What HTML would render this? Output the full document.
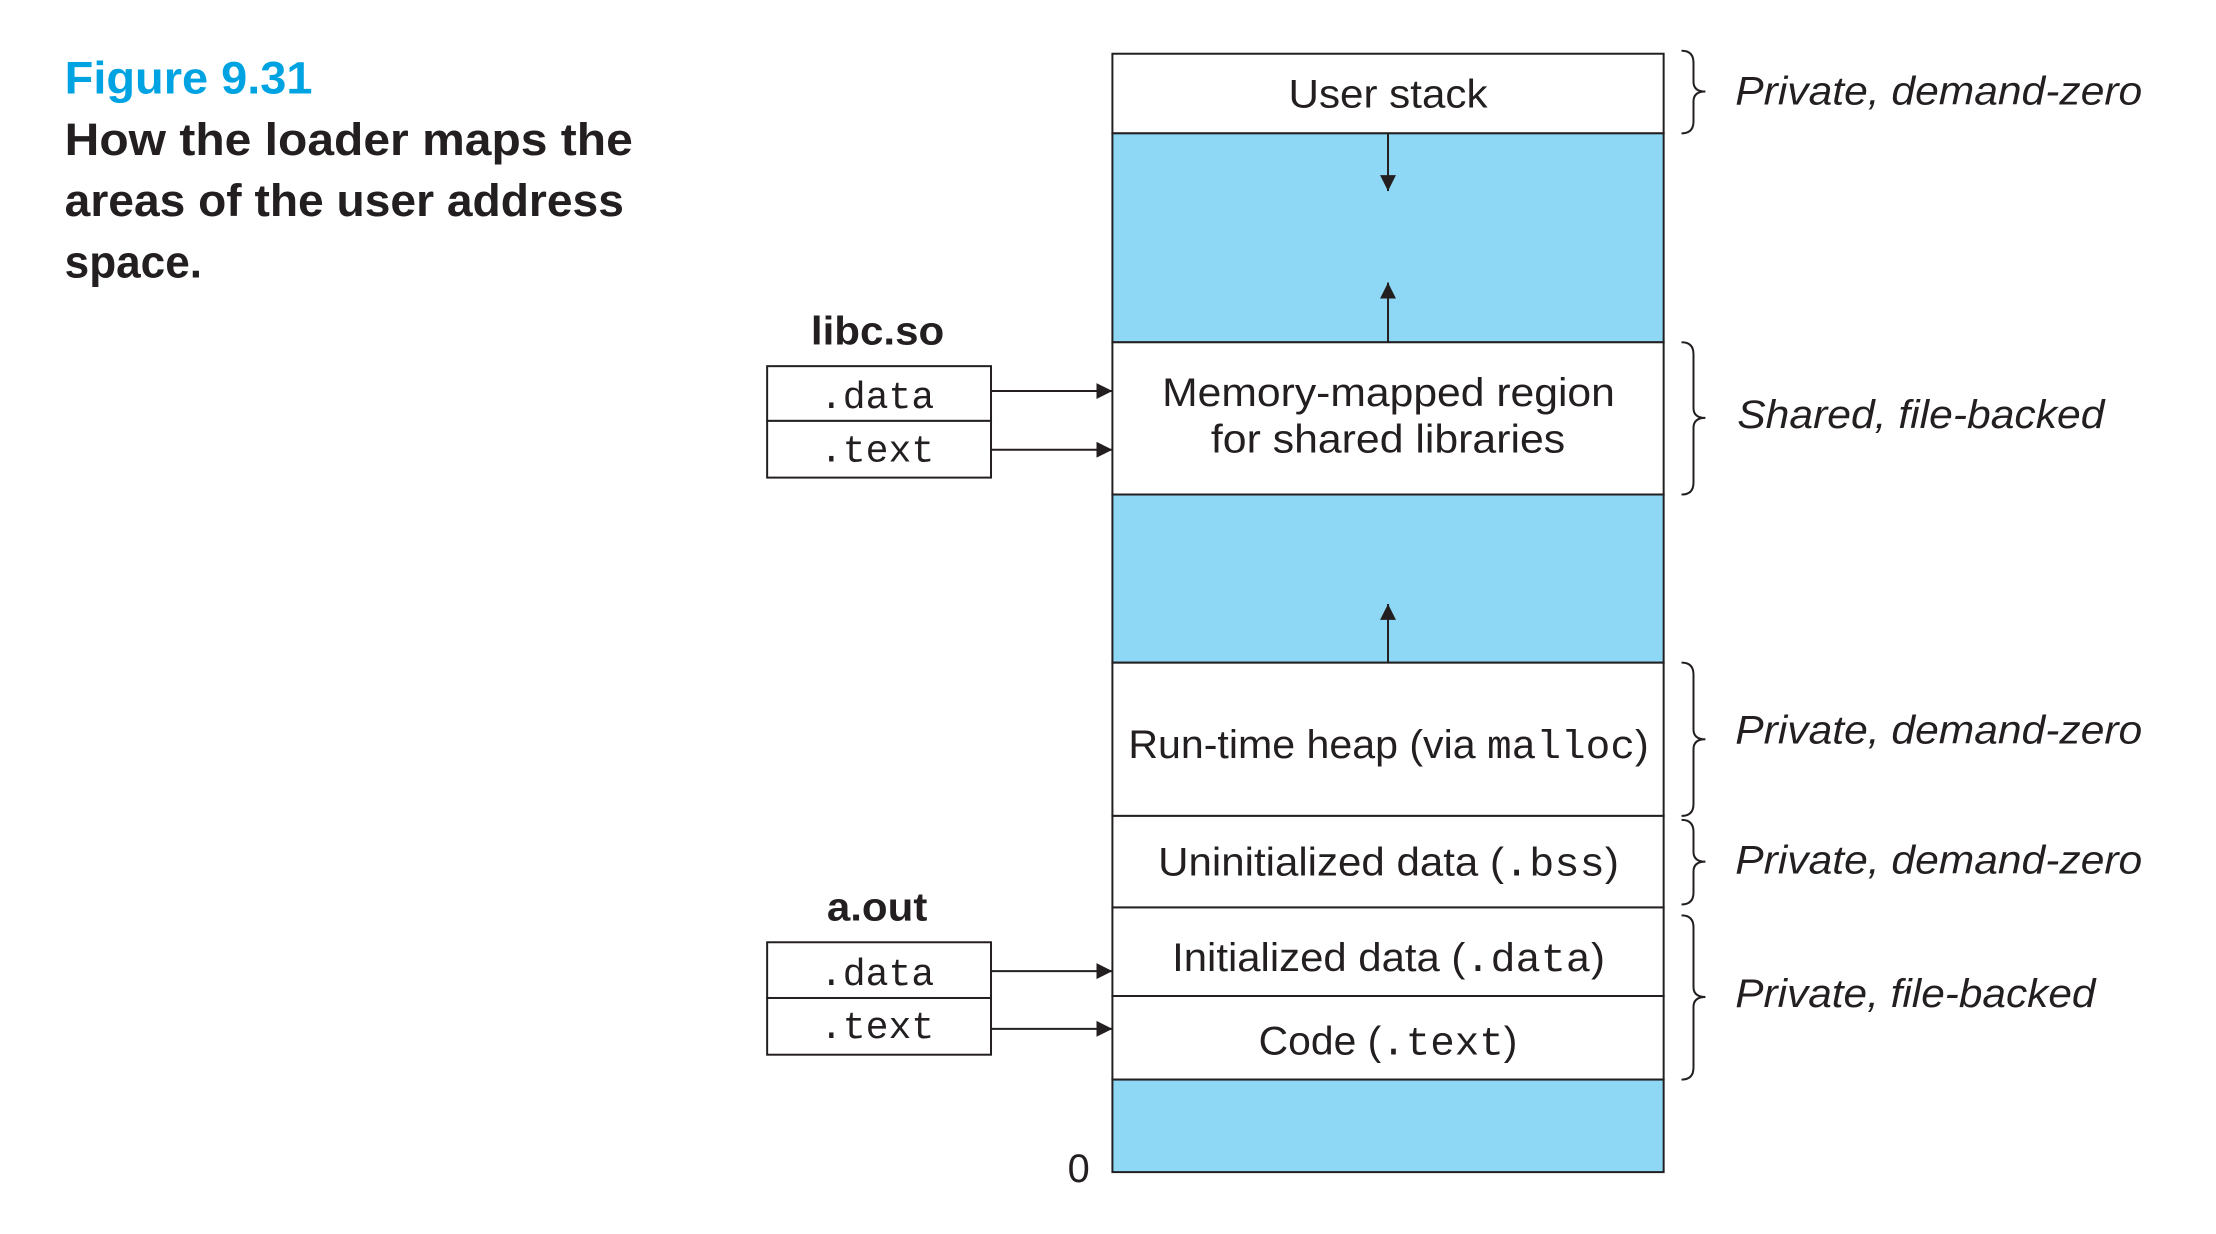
<!DOCTYPE html>
<html><head><meta charset="utf-8"><style>
html,body{margin:0;padding:0;background:#fff;}
svg{display:block;}
.t{font-family:"Liberation Sans",sans-serif;font-weight:bold;font-size:46px;fill:#231f20;}
.b{font-family:"Liberation Sans",sans-serif;font-size:40px;fill:#231f20;}
.i{font-family:"Liberation Sans",sans-serif;font-style:italic;font-size:40px;fill:#231f20;}
.m{font-family:"Liberation Mono",monospace;}
.mm{font-family:"Liberation Mono",monospace;font-size:38px;fill:#231f20;}
</style></head><body>
<svg width="2216" height="1234" viewBox="0 0 2216 1234" xmlns="http://www.w3.org/2000/svg">
<defs><marker id="ar" viewBox="0 0 10 10" refX="10" refY="5" markerWidth="18" markerHeight="16" markerUnits="userSpaceOnUse" orient="auto"><path d="M0,0 L10,5 L0,10 z" fill="#231f20"/></marker></defs>
<g transform="scale(0.995)">
<text x="65" y="94" class="t" style="fill:#00a3e2" textLength="249" lengthAdjust="spacingAndGlyphs">Figure 9.31</text>
<text x="65" y="156" class="t" textLength="571" lengthAdjust="spacingAndGlyphs">How the loader maps the</text>
<text x="65" y="217" class="t" textLength="562" lengthAdjust="spacingAndGlyphs">areas of the user address</text>
<text x="65" y="279" class="t" textLength="138" lengthAdjust="spacingAndGlyphs">space.</text>

<g stroke="#231f20" stroke-width="2">
<rect x="1118" y="54" width="554" height="80" fill="#fff"/>
<rect x="1118" y="134" width="554" height="210" fill="#8ed8f6"/>
<rect x="1118" y="344" width="554" height="153" fill="#fff"/>
<rect x="1118" y="497" width="554" height="169" fill="#8ed8f6"/>
<rect x="1118" y="666" width="554" height="154" fill="#fff"/>
<rect x="1118" y="820" width="554" height="92" fill="#fff"/>
<rect x="1118" y="912" width="554" height="89" fill="#fff"/>
<rect x="1118" y="1001" width="554" height="84" fill="#fff"/>
<rect x="1118" y="1085" width="554" height="93" fill="#8ed8f6"/>
<line x1="1395" y1="134" x2="1395" y2="192" marker-end="url(#ar)"/>
<line x1="1395" y1="344" x2="1395" y2="284" marker-end="url(#ar)"/>
<line x1="1395" y1="666" x2="1395" y2="607" marker-end="url(#ar)"/>
<rect x="771" y="368" width="225" height="55" fill="#fff"/>
<rect x="771" y="423" width="225" height="57" fill="#fff"/>
<rect x="771" y="947" width="225" height="56" fill="#fff"/>
<rect x="771" y="1003" width="225" height="57" fill="#fff"/>
<line x1="996" y1="393" x2="1118" y2="393" marker-end="url(#ar)"/>
<line x1="996" y1="452" x2="1118" y2="452" marker-end="url(#ar)"/>
<line x1="996" y1="976" x2="1118" y2="976" marker-end="url(#ar)"/>
<line x1="996" y1="1034" x2="1118" y2="1034" marker-end="url(#ar)"/>
<g fill="none">
<path d="M1690 51 Q1702 51 1702 63 L1702 82 Q1702 92 1714 92 Q1702 92 1702 102 L1702 122 Q1702 134 1690 134"/>
<path d="M1690 344 Q1702 344 1702 356 L1702 410 Q1702 420 1714 420 Q1702 420 1702 430 L1702 485 Q1702 497 1690 497"/>
<path d="M1690 666 Q1702 666 1702 678 L1702 733 Q1702 743 1714 743 Q1702 743 1702 753 L1702 808 Q1702 820 1690 820"/>
<path d="M1690 824 Q1702 824 1702 836 L1702 856 Q1702 866 1714 866 Q1702 866 1702 876 L1702 897 Q1702 909 1690 909"/>
<path d="M1690 920 Q1702 920 1702 932 L1702 992 Q1702 1002 1714 1002 Q1702 1002 1702 1012 L1702 1073 Q1702 1085 1690 1085"/>
</g>
</g>

<text x="1295" y="108" class="b" textLength="200" lengthAdjust="spacingAndGlyphs">User stack</text>
<text x="1168" y="408" class="b" textLength="455" lengthAdjust="spacingAndGlyphs">Memory-mapped region</text>
<text x="1217" y="455" class="b" textLength="356" lengthAdjust="spacingAndGlyphs">for shared libraries</text>
<text x="1134" y="762" class="b" textLength="523" lengthAdjust="spacingAndGlyphs">Run-time heap (via <tspan class="m">malloc</tspan>)</text>
<text x="1164" y="880" class="b" textLength="463" lengthAdjust="spacingAndGlyphs">Uninitialized data (<tspan class="m">.bss</tspan>)</text>
<text x="1178" y="976" class="b" textLength="435" lengthAdjust="spacingAndGlyphs">Initialized data (<tspan class="m">.data</tspan>)</text>
<text x="1265" y="1060" class="b" textLength="260" lengthAdjust="spacingAndGlyphs">Code (<tspan class="m">.text</tspan>)</text>
<text x="1073" y="1188" class="b">0</text>

<text x="1744" y="105" class="i" textLength="409" lengthAdjust="spacingAndGlyphs">Private, demand-zero</text>
<text x="1746" y="430" class="i" textLength="369" lengthAdjust="spacingAndGlyphs">Shared, file-backed</text>
<text x="1744" y="747" class="i" textLength="409" lengthAdjust="spacingAndGlyphs">Private, demand-zero</text>
<text x="1744" y="878" class="i" textLength="409" lengthAdjust="spacingAndGlyphs">Private, demand-zero</text>
<text x="1744" y="1012" class="i" textLength="362" lengthAdjust="spacingAndGlyphs">Private, file-backed</text>

<text x="815" y="346" class="t" style="font-size:40px" textLength="134" lengthAdjust="spacingAndGlyphs">libc.so</text>
<text x="831" y="925" class="t" style="font-size:40px" textLength="101" lengthAdjust="spacingAndGlyphs">a.out</text>
<text x="824" y="410" class="mm" textLength="115" lengthAdjust="spacingAndGlyphs">.data</text>
<text x="824" y="464" class="mm" textLength="115" lengthAdjust="spacingAndGlyphs">.text</text>
<text x="824" y="990" class="mm" textLength="115" lengthAdjust="spacingAndGlyphs">.data</text>
<text x="824" y="1043" class="mm" textLength="115" lengthAdjust="spacingAndGlyphs">.text</text>
</g>
</svg>
</body></html>
